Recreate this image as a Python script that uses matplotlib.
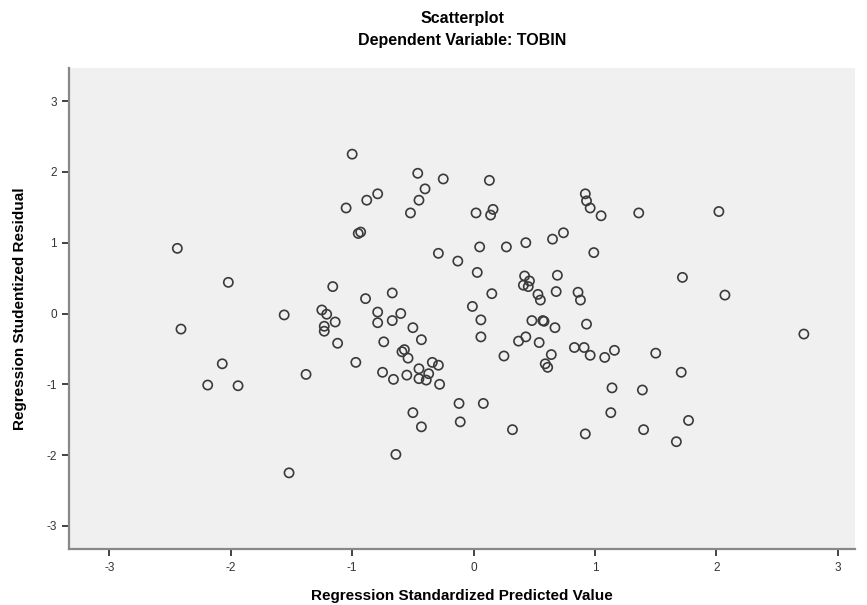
import matplotlib
matplotlib.use("Agg")
import matplotlib.pyplot as plt

plt.rcParams['font.family'] = ['Liberation Sans', 'DejaVu Sans']

# Regression Standardized Predicted Value
pred = [-2.44, -2.02, -1.56, -1.16, -1.25, -1.21, -1.14, -1.23, -1.23, -2.41,
        -1.12, -2.07, -2.19, -1.94, -1.38, -1.52, -1.00, -0.46, -0.25, 0.13,
        -0.40, -0.79, -0.88, -0.45, -1.05, -0.52, 0.02, 0.16, 0.14, 0.92,
        0.93, 0.96, 1.05, -0.95, -0.93, 0.74, 0.65, 0.43, 0.27, 0.05,
        -0.29, 0.99, -0.13, 0.03, 0.69, 0.42, 0.46, 0.41, 0.45, -0.67,
        -0.89, 0.15, 0.68, 0.53, 0.55, 0.86, 0.88, -0.01, -0.79, -0.60,
        0.06, -0.79, -0.67, -0.50, 0.48, 0.57, 0.58, 0.67, 0.93, -0.74,
        -0.43, 0.06, 0.43, 0.37, 0.54, 0.83, 0.91, 0.96, 1.08, 0.64,
        0.59, 0.61, 0.25, -0.57, -0.59, -0.54, -0.97, -0.75, -0.66, -0.55,
        -0.45, -0.45, -0.39, -0.37, -0.34, -0.29, -0.28, -0.12, 0.08, -0.11,
        -0.50, -0.43, 0.32, 0.92, -0.64, 1.36, 2.02, 1.72, 2.07, 2.72,
        1.16, 1.50, 1.71, 1.14, 1.39, 1.13, 1.77, 1.40, 1.67]

# Regression Studentized Residual
resid = [0.92, 0.44, -0.02, 0.38, 0.05, -0.01, -0.12, -0.18, -0.25, -0.22,
         -0.42, -0.71, -1.01, -1.02, -0.86, -2.25, 2.25, 1.98, 1.90, 1.88,
         1.76, 1.69, 1.60, 1.60, 1.49, 1.42, 1.42, 1.47, 1.39, 1.69,
         1.59, 1.49, 1.38, 1.13, 1.15, 1.14, 1.05, 1.00, 0.94, 0.94,
         0.85, 0.86, 0.74, 0.58, 0.54, 0.53, 0.46, 0.40, 0.38, 0.29,
         0.21, 0.28, 0.31, 0.27, 0.19, 0.30, 0.19, 0.10, 0.02, 0.00,
         -0.09, -0.13, -0.10, -0.20, -0.10, -0.10, -0.11, -0.20, -0.15, -0.40,
         -0.37, -0.33, -0.33, -0.39, -0.41, -0.48, -0.48, -0.59, -0.62, -0.58,
         -0.71, -0.76, -0.60, -0.51, -0.54, -0.63, -0.69, -0.83, -0.93, -0.87,
         -0.78, -0.92, -0.94, -0.85, -0.69, -0.73, -1.00, -1.27, -1.27, -1.53,
         -1.40, -1.60, -1.64, -1.70, -1.99, 1.42, 1.44, 0.51, 0.26, -0.29,
         -0.52, -0.56, -0.83, -1.05, -1.08, -1.40, -1.51, -1.64, -1.81]

ticks = [-3, -2, -1, 0, 1, 2, 3]
tick_labels = ['-3', '-2', '-1', '0', '1', '2', '3']

fig = plt.figure(figsize=(8.67, 6.05), dpi=100)
fig.patch.set_facecolor('white')
ax = fig.add_axes([0.0799, 0.092, 0.9061, 0.796])
ax.set_facecolor('#F0F0F0')

ax.scatter(pred, resid, s=44, facecolors='none', edgecolors='#3a3a3a',
           linewidths=1.2, zorder=3)

ax.set_xlim(-3.33, 3.14)
ax.set_ylim(-3.33, 3.47)
ax.set_xticks(ticks)
ax.set_xticklabels(tick_labels)
ax.set_yticks(ticks)
ax.set_yticklabels(tick_labels)

for side in ['top', 'right']:
    ax.spines[side].set_visible(False)
for side in ['left', 'bottom']:
    ax.spines[side].set_color('#888888')
    ax.spines[side].set_linewidth(1.6)

ax.tick_params(axis='both', direction='out', length=5, width=1.2,
               color='#222222', labelsize=8.5, labelcolor='#333333', pad=4)

ax.set_xlabel('Regression Standardized Predicted Value', fontsize=11,
              fontweight='bold', labelpad=11)
ax.set_ylabel('Regression Studentized Residual', fontsize=11,
              fontweight='bold', labelpad=14)

fig.text(0.533, 0.970, 'Scatterplot', ha='center', va='center',
         fontsize=11.5, fontweight='bold')
fig.text(0.533, 0.933, 'Dependent Variable: TOBIN', ha='center',
         va='center', fontsize=11.5, fontweight='bold')

fig.savefig('out.png', dpi=100)
